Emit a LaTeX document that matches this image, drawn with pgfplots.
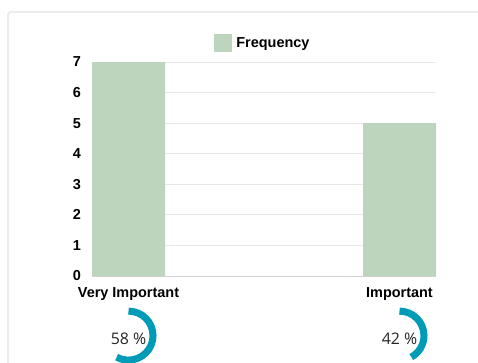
\documentclass[border=0pt]{standalone}
\usepackage{pgfplots}
\pgfplotsset{compat=1.18}
\usepackage{fontspec}
\setmainfont{Liberation Sans}
\newfontfamily\ringfont{Open Sans}

\definecolor{barfill}{RGB}{190,213,189}
\definecolor{ringcol}{RGB}{0,155,182}
\definecolor{panelline}{RGB}{236,236,236}
\definecolor{gridcol}{RGB}{232,232,232}
\definecolor{baseline}{RGB}{210,210,210}

% ring gauge with the percentage in its centre
\newcommand{\ringgauge}[2]{%
  \draw[ringcol, line width=7bp]
    (axis cs:#1,-1.95) ++(0bp,24.5bp)
    arc[start angle=90, end angle={90-3.6*#2}, radius=24.5bp];
  \node[font=\ringfont\fontsize{16}{18}\selectfont, text=black!85, inner sep=0pt, anchor=center]
    at ([yshift=-3bp]axis cs:#1,-1.95) {#2\ \%};
}

\begin{document}
\begin{tikzpicture}
\clip (0,0) rectangle (478bp,363bp);
\fill[white] (0,0) rectangle (478bp,363bp);
% card outline
\draw[panelline, line width=2bp, rounded corners=3bp] (8bp,-20bp) rectangle (500bp,351bp);
\begin{axis}[
  at={(92bp,87bp)}, anchor=south west,
  scale only axis, width=344bp, height=214bp,
  xmin=-0.1347, xmax=1.1347, ymin=0, ymax=7,
  clip=false,
  ybar, bar width=73bp,
  axis x line*=bottom, axis y line*=left,
  x axis line style={-, draw=baseline, line width=1bp},
  y axis line style={draw=none},
  major tick length=0pt,
  xtick={0,1}, xticklabels={Very Important, Important},
  ytick={0,1,...,7},
  ymajorgrids, major grid style={draw=gridcol, line width=0.8bp},
  /pgf/number format/assume math mode=true,
  ticklabel style={font=\bfseries\fontsize{14.5}{16}\selectfont},
  y tick label style={inner sep=0pt, xshift=-11bp},
  x tick label style={anchor=base, inner sep=0pt, yshift=-21bp},
  legend style={draw=none, fill=none, at={(rel axis cs:0.494,1.0888)}, anchor=center,
    inner sep=0pt, font=\bfseries\fontsize{14.5}{16}\selectfont,
    nodes={inner sep=0pt, anchor=west}},
  legend image code/.code={\fill[barfill] (0bp,-9bp) rectangle (18bp,9bp);},
  legend cell align=left,
]
\addplot[fill=barfill, draw=none] coordinates {(0,7) (1,5)};
\addlegendentry{\hspace{4bp}Frequency}

\ringgauge{0}{58}
\ringgauge{1}{42}
\end{axis}
\end{tikzpicture}
\end{document}
